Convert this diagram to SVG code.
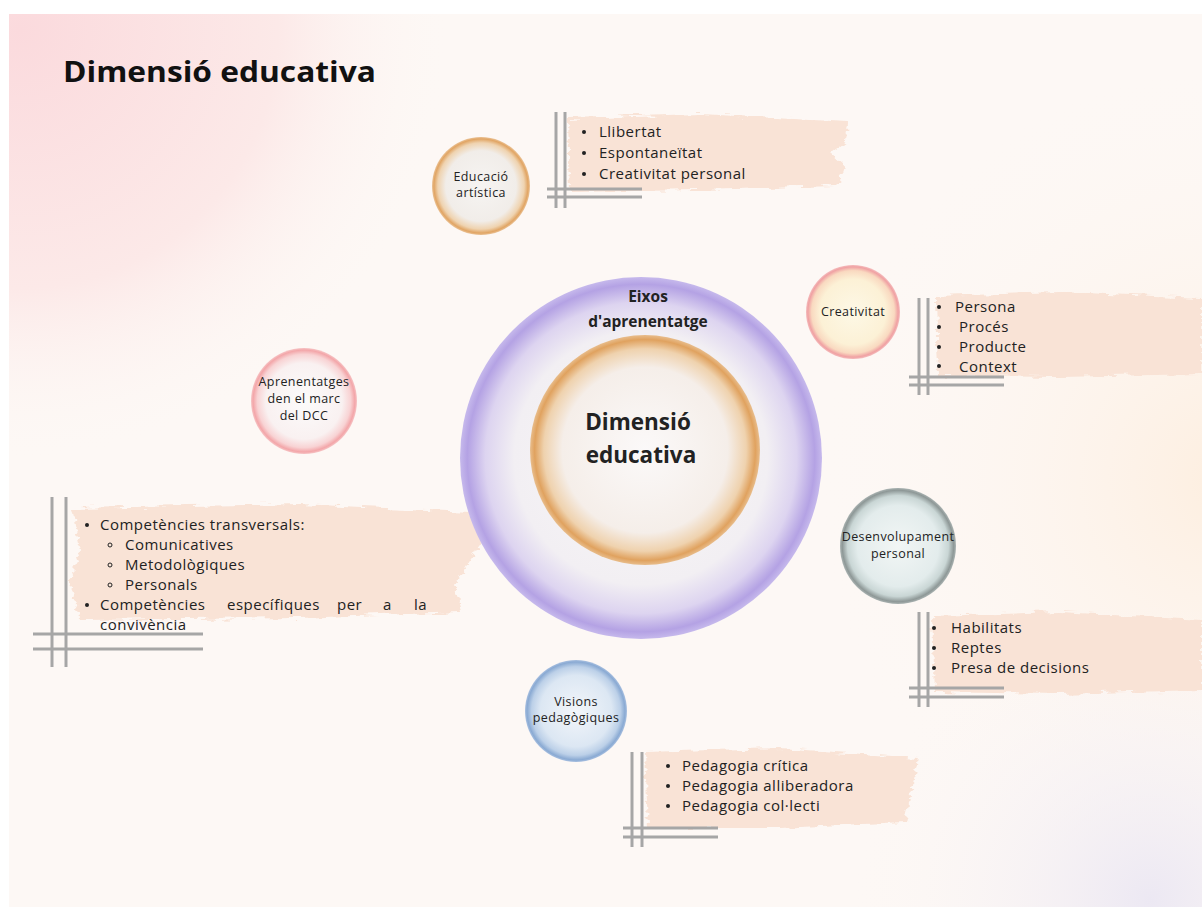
<svg xmlns="http://www.w3.org/2000/svg" width="1202" height="907" viewBox="0 0 1202 907">
  <defs>
    <radialGradient id="bgPink" cx="20" cy="30" r="430" gradientUnits="userSpaceOnUse">
      <stop offset="0" stop-color="#fbdadd"/>
      <stop offset="0.6" stop-color="#fce9e8"/>
      <stop offset="1" stop-color="#fdf8f5" stop-opacity="0"/>
    </radialGradient>
    <radialGradient id="bgPeach" cx="1230" cy="480" r="420" gradientUnits="userSpaceOnUse">
      <stop offset="0" stop-color="#fdeedf"/>
      <stop offset="1" stop-color="#fdf8f5" stop-opacity="0"/>
    </radialGradient>
    <radialGradient id="bgLav" cx="1150" cy="900" r="300" gradientUnits="userSpaceOnUse">
      <stop offset="0" stop-color="#ece8f3"/>
      <stop offset="1" stop-color="#fdf8f5" stop-opacity="0"/>
    </radialGradient>

    <radialGradient id="gOuter">
      <stop offset="0" stop-color="#f9f7f7"/>
      <stop offset="0.7" stop-color="#f2eff3"/>
      <stop offset="0.86" stop-color="#ddd4f0"/>
      <stop offset="0.96" stop-color="#b4a2e4"/>
      <stop offset="1" stop-color="#c6b9ec"/>
    </radialGradient>
    <radialGradient id="gInner">
      <stop offset="0" stop-color="#fbf9f9"/>
      <stop offset="0.72" stop-color="#f5eee9"/>
      <stop offset="0.88" stop-color="#efd2ae"/>
      <stop offset="0.96" stop-color="#e0a25f"/>
      <stop offset="1" stop-color="#e8bd8c"/>
    </radialGradient>
    <radialGradient id="gArt">
      <stop offset="0" stop-color="#f6f4f2"/>
      <stop offset="0.72" stop-color="#f1ede9"/>
      <stop offset="0.88" stop-color="#efd3b0"/>
      <stop offset="0.96" stop-color="#e1a564"/>
      <stop offset="1" stop-color="#eac296"/>
    </radialGradient>
    <radialGradient id="gCrea">
      <stop offset="0" stop-color="#fdf8e6"/>
      <stop offset="0.7" stop-color="#fcf1d6"/>
      <stop offset="0.88" stop-color="#f9d9c0"/>
      <stop offset="0.96" stop-color="#f0a1a3"/>
      <stop offset="1" stop-color="#f4bcbc"/>
    </radialGradient>
    <radialGradient id="gApr">
      <stop offset="0" stop-color="#fcfbfb"/>
      <stop offset="0.72" stop-color="#f9f1f1"/>
      <stop offset="0.88" stop-color="#f8d3d4"/>
      <stop offset="0.96" stop-color="#f3a6a9"/>
      <stop offset="1" stop-color="#f6c4c5"/>
    </radialGradient>
    <radialGradient id="gDes">
      <stop offset="0" stop-color="#f2f6f5"/>
      <stop offset="0.7" stop-color="#e3ecec"/>
      <stop offset="0.87" stop-color="#c9d6d5"/>
      <stop offset="0.96" stop-color="#8e9897"/>
      <stop offset="1" stop-color="#aab3b2"/>
    </radialGradient>
    <radialGradient id="gVis">
      <stop offset="0" stop-color="#f3f6fa"/>
      <stop offset="0.7" stop-color="#dce7f3"/>
      <stop offset="0.87" stop-color="#bcd0e8"/>
      <stop offset="0.96" stop-color="#8aaad3"/>
      <stop offset="1" stop-color="#a9c0e0"/>
    </radialGradient>

    <!-- rough brush edge -->
    <filter id="brush" x="-5%" y="-20%" width="110%" height="140%">
      <feTurbulence type="fractalNoise" baseFrequency="0.06 0.25" numOctaves="2" seed="4" result="n"/>
      <feDisplacementMap in="SourceGraphic" in2="n" scale="10" xChannelSelector="R" yChannelSelector="G"/>
    </filter>
  </defs>

  <style>
    .title { font-family: "Open Sans", "Noto Sans", sans-serif; font-weight: 700; fill: #111; }
    .hub { font-family: "Open Sans", "Noto Sans", sans-serif; font-weight: 700; fill: #222; text-anchor: middle; }
    .lbl { font-family: "Open Sans", "Noto Sans", sans-serif; font-size: 12.5px; letter-spacing: 0.4px; fill: #222; text-anchor: middle; }
    .item { font-family: "Open Sans", "Noto Sans", sans-serif; font-size: 15px; letter-spacing: 0.5px; fill: #222; }
    .stroke { fill: #f9e3d6; filter: url(#brush); }
    .grid line { stroke: #a6a6a6; stroke-width: 3; }
    .dot { fill: #222; }
    .ring { fill: none; stroke: #222; stroke-width: 1; }
  </style>

  <!-- page -->
  <rect x="0" y="0" width="1202" height="907" fill="#ffffff"/>
  <rect x="9" y="14" width="1193" height="893" fill="#fdf8f5"/>
  <rect x="9" y="14" width="1193" height="893" fill="url(#bgPink)"/>
  <rect x="9" y="14" width="1193" height="893" fill="url(#bgPeach)"/>
  <rect x="9" y="14" width="1193" height="893" fill="url(#bgLav)"/>

  <text class="title" x="63" y="82" font-size="29" textLength="313" lengthAdjust="spacingAndGlyphs">Dimensió educativa</text>

  <!-- brush strokes behind the lists -->
  <g id="brushes">
    <path class="stroke" d="M568,118 L700,114 L848,122 L846,140 L830,152 L845,166 L838,186 L700,190 L570,192 Z"/>
    <path class="stroke" d="M936,296 L1060,292 L1202,298 L1202,374 L1060,377 L938,376 Z"/>
    <path class="stroke" d="M72,508 L300,504 L470,512 L484,540 L470,560 L455,585 L460,612 L300,618 L80,620 L70,580 L80,550 Z"/>
    <path class="stroke" d="M932,616 L1060,612 L1202,620 L1202,690 L1060,694 L935,692 Z"/>
    <path class="stroke" d="M645,752 L780,748 L918,758 L912,790 L905,822 L780,828 L648,828 Z"/>
  </g>

  <!-- corner rulings beside each list -->
  <g id="connectors" class="grid">
    <line x1="556" y1="112" x2="556" y2="208"/><line x1="565" y1="112" x2="565" y2="208"/>
    <line x1="547" y1="189" x2="642" y2="189"/><line x1="547" y1="197" x2="642" y2="197"/>

    <line x1="919" y1="298" x2="919" y2="395"/><line x1="928" y1="298" x2="928" y2="395"/>
    <line x1="909" y1="377" x2="1004" y2="377"/><line x1="909" y1="385" x2="1004" y2="385"/>

    <line x1="52" y1="497" x2="52" y2="667"/><line x1="66" y1="497" x2="66" y2="667"/>
    <line x1="33" y1="634" x2="203" y2="634"/><line x1="33" y1="649" x2="203" y2="649"/>

    <line x1="919" y1="612" x2="919" y2="707"/><line x1="928" y1="612" x2="928" y2="707"/>
    <line x1="909" y1="688" x2="1004" y2="688"/><line x1="909" y1="697" x2="1004" y2="697"/>

    <line x1="632" y1="752" x2="632" y2="847"/><line x1="642" y1="752" x2="642" y2="847"/>
    <line x1="623" y1="828" x2="718" y2="828"/><line x1="623" y1="837" x2="718" y2="837"/>
  </g>

  <!-- central hub -->
  <g id="hub-eixos">
    <circle cx="641" cy="458" r="181" fill="url(#gOuter)"/>
    <text class="hub" x="648" y="302" font-size="15.5">Eixos</text>
    <text class="hub" x="648" y="327" font-size="15.5">d'aprenentatge</text>
  </g>
  <g id="hub-dimensio">
    <circle cx="645" cy="450" r="115" fill="url(#gInner)"/>
    <text class="hub" x="638" y="430" font-size="22.5">Dimensió</text>
    <text class="hub" x="641" y="463" font-size="22.5">educativa</text>
  </g>

  <!-- satellites -->
  <g id="node-educacio">
    <circle cx="481" cy="186" r="49" fill="url(#gArt)"/>
    <text class="lbl" x="481" y="181">Educació</text>
    <text class="lbl" x="481" y="197">artística</text>
    <circle class="dot" cx="584" cy="132" r="2"/>
    <circle class="dot" cx="584" cy="153" r="2"/>
    <circle class="dot" cx="584" cy="174" r="2"/>
    <text class="item" x="599" y="137">Llibertat</text>
    <text class="item" x="599" y="158">Espontaneïtat</text>
    <text class="item" x="599" y="179">Creativitat personal</text>
  </g>

  <g id="node-creativitat">
    <circle cx="853" cy="312" r="47" fill="url(#gCrea)"/>
    <text class="lbl" x="853" y="316">Creativitat</text>
    <circle class="dot" cx="939" cy="307" r="2"/>
    <circle class="dot" cx="939" cy="327" r="2"/>
    <circle class="dot" cx="939" cy="347" r="2"/>
    <circle class="dot" cx="939" cy="366" r="2"/>
    <text class="item" x="955" y="312">Persona</text>
    <text class="item" x="959" y="332">Procés</text>
    <text class="item" x="959" y="352">Producte</text>
    <text class="item" x="959" y="372">Context</text>
  </g>

  <g id="node-aprenentatges">
    <circle cx="304" cy="401" r="53" fill="url(#gApr)"/>
    <text class="lbl" x="304" y="386">Aprenentatges</text>
    <text class="lbl" x="304" y="403">den el marc</text>
    <text class="lbl" x="304" y="420">del DCC</text>
    <circle class="dot" cx="87" cy="525" r="2"/>
    <text class="item" x="100" y="530">Competències transversals:</text>
    <circle class="ring" cx="110" cy="545" r="2"/>
    <circle class="ring" cx="110" cy="565" r="2"/>
    <circle class="ring" cx="110" cy="585" r="2"/>
    <text class="item" x="125" y="550">Comunicatives</text>
    <text class="item" x="125" y="570">Metodològiques</text>
    <text class="item" x="125" y="590">Personals</text>
    <circle class="dot" cx="87" cy="605" r="2"/>
    <text class="item" x="100" y="610">Competències</text>
    <text class="item" x="227" y="610">específiques</text>
    <text class="item" x="337" y="610">per</text>
    <text class="item" x="383" y="610">a</text>
    <text class="item" x="414" y="610">la</text>
    <text class="item" x="100" y="630">convivència</text>
  </g>

  <g id="node-desenvolupament">
    <circle cx="898" cy="546" r="58" fill="url(#gDes)"/>
    <text class="lbl" x="898" y="541">Desenvolupament</text>
    <text class="lbl" x="898" y="558">personal</text>
    <circle class="dot" cx="934" cy="628" r="2"/>
    <circle class="dot" cx="934" cy="648" r="2"/>
    <circle class="dot" cx="934" cy="668" r="2"/>
    <text class="item" x="951" y="633">Habilitats</text>
    <text class="item" x="951" y="653">Reptes</text>
    <text class="item" x="951" y="673">Presa de decisions</text>
  </g>

  <g id="node-visions">
    <circle cx="576" cy="711" r="51" fill="url(#gVis)"/>
    <text class="lbl" x="576" y="706">Visions</text>
    <text class="lbl" x="576" y="722">pedagògiques</text>
    <circle class="dot" cx="668" cy="766" r="2"/>
    <circle class="dot" cx="668" cy="786" r="2"/>
    <circle class="dot" cx="668" cy="806" r="2"/>
    <text class="item" x="682" y="771">Pedagogia crítica</text>
    <text class="item" x="682" y="791">Pedagogia alliberadora</text>
    <text class="item" x="682" y="811">Pedagogia col·lecti</text>
  </g>
</svg>
